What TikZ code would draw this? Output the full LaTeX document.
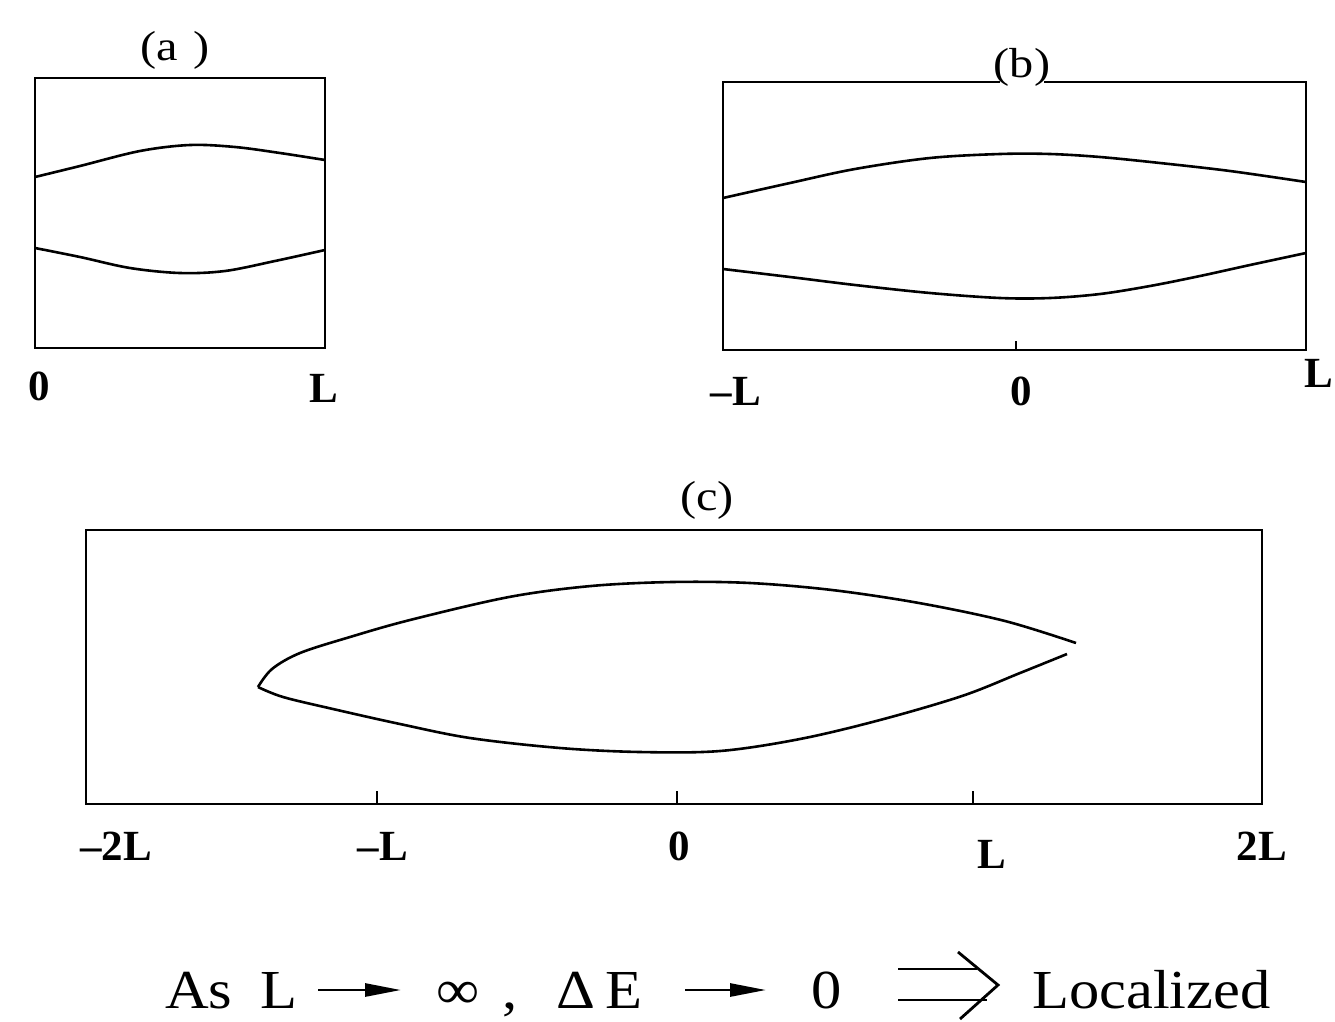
\documentclass[tikz,border=0pt]{standalone}
\usepackage{fontspec}
\setmainfont{Liberation Serif}
\usetikzlibrary{arrows.meta}
\newcommand\widetxt[1]{\scalebox{1.1}[1]{#1}}
\newcommand\widettl[1]{\scalebox{1.15}[1]{#1}}
\begin{document}
\begin{tikzpicture}[x=1pt,y=-1pt,
  frame/.style={line width=2.8pt, line join=miter},
  wave/.style={line width=2.6pt, smooth, tension=0.55},
  tick/.style={line width=2.4pt},
  axlab/.style={font=\fontsize{43}{46}\selectfont\bfseries, inner sep=0pt, anchor=base},
  ttl/.style={font=\fontsize{42}{46}\selectfont, inner sep=0pt, anchor=base},
  eqn/.style={font=\fontsize{55}{60}\selectfont, inner sep=0pt, anchor=base west},
  smallarrow/.style={line width=2.8pt, -{Triangle[length=36pt, width=13pt]}},
  implies/.style={line width=2.8pt},
]
\useasboundingbox (0,0) rectangle (1335,1021);

% ---------- panel (a) ----------
\draw[frame] (35,78) rectangle (325,348);
\draw[wave] plot coordinates {(35,177) (80,166) (140,151) (190,145) (235,147) (280,153) (325,160)};
\draw[wave] plot coordinates {(35,248) (80,257) (130,268) (180,273) (225,271) (275,261) (325,250)};
\node[ttl] (ta) at (175,60) {\widettl{(a\,\,)}};
\node[axlab] (a0) at (39,400) {0};
\node[axlab] (aL) at (324,402) {L};

% ---------- panel (b) ----------
\draw[frame] (723,82) rectangle (1306,350);
\draw[tick] (1016,350) -- (1016,341);
\draw[wave] plot coordinates {(723,198) (790,183) (855,169) (930,158) (1000,154) (1050,154) (1100,157) (1160,163) (1230,171) (1306,182)};
\draw[wave] plot coordinates {(723,269) (790,277) (855,285) (930,293) (1000,298) (1050,298) (1100,294) (1150,286) (1200,276) (1250,265) (1306,253)};
\fill[white] (1000,78) rectangle (1044,86);
\node[ttl] (tb) at (1022,77) {\widettl{(b)}};
\node[axlab] (bm) at (736,405) {\textendash L};
\node[axlab] (b0) at (1021,405) {0};
\node[axlab] (bL) at (1319,387) {L};

% ---------- panel (c) ----------
\draw[frame] (86,530) rectangle (1262,804);
\foreach \x in {377,677,973} \draw[tick] (\x,804) -- (\x,791);
\draw[wave] plot coordinates {(258,687) (272,669) (300,653) (350,637) (410,620) (509,597) (591,586) (672,582) (750,583) (832,590) (919,603) (1005,621) (1076,643)};
\draw[wave] plot coordinates {(258,687) (283,697) (333,709) (400,724) (470,738) (560,748) (640,752) (720,751) (800,739) (880,720) (962,696) (1020,673) (1067,654)};
\node[ttl] (tc) at (707,510) {\widettl{(c)}};
\node[axlab] (c1) at (116,860) {\textendash 2L};
\node[axlab] (c2) at (383,860) {\textendash L};
\node[axlab] (c3) at (679,860) {0};
\node[axlab] (c4) at (992,868) {L};
\node[axlab] (c5) at (1262,860) {2L};

% ---------- bottom statement ----------
\node[eqn] (eAs) at (165,1008) {\widetxt{As}};
\node[eqn] (eL) at (260,1008) {\widetxt{L}};
\coordinate (a1s) at (318,990);
\coordinate (a1e) at (401,990);
\draw[smallarrow] (a1s) -- (a1e);
\node[eqn] (einf) at (436,1008) {\widetxt{∞}};
\node[eqn] (ecomma) at (502,1008) {\widetxt{,}};
\node[eqn] (edE) at (556,1008) {\widetxt{Δ\,E}};
\coordinate (a2s) at (685,990);
\coordinate (a2e) at (766,990);
\draw[smallarrow] (a2s) -- (a2e);
\node[eqn] (e0) at (811,1008) {\widetxt{0}};
\coordinate (i1s) at (898,969);
\coordinate (i1e) at (977,969);
\coordinate (i2s) at (898,1000);
\coordinate (i2e) at (987,1000);
\coordinate (hTop) at (958,952);
\coordinate (hTip) at (998,985);
\coordinate (hBot) at (960,1019);
\draw[implies] (i1s) -- (i1e);
\draw[implies] (i2s) -- (i2e);
\draw[implies, line join=miter] (hTop) -- (hTip) -- (hBot);
\node[eqn] (eLoc) at (1032,1008) {\widetxt{Localized}};
\end{tikzpicture}
\end{document}
